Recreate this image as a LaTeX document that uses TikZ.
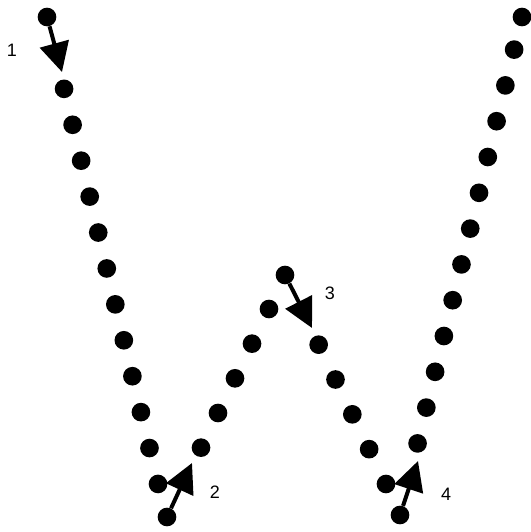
\documentclass[tikz,border=0pt]{standalone}
\usepackage{fontspec}
\setmainfont{Liberation Sans}
\usetikzlibrary{arrows.meta}

\tikzstyle{dotnode} = [circle, fill, inner sep = 0pt, minimum size = 14pt]
\tikzstyle{num} = [font = \fontsize{13.5}{16}\selectfont, inner sep = 0pt]
\tikzstyle{penarrow} = [-{Triangle[length = 22pt, width = 22pt]}, line width = 3pt]

\begin{document}
\begin{tikzpicture}[x = 0.75pt, y = -0.75pt]
		\useasboundingbox (0, 0) rectangle (531, 532);

		% stroke 1
		\node [dotnode] at (47, 17) (s1) {};
		\foreach \k in {2,...,13}
			\node [dotnode] at ({47 + 8.54*\k}, {17 + 35.92*\k}) (a\k) {};
		\coordinate (t1) at (62, 72);
		\node [num] at (12, 50) (n1) {1};

		% stroke 2
		\node [dotnode] at (167, 517) (s2) {};
		\foreach \k in {2,...,6}
			\node [dotnode] at ({167 + 17*\k}, {517 - 34.67*\k}) (b\k) {};
		\coordinate (t2) at (192, 463);
		\node [num] at (215, 492) (n2) {2};

		% stroke 3
		\node [dotnode] at (285, 275) (s3) {};
		\foreach \k in {2,...,6}
			\node [dotnode] at ({285 + 16.83*\k}, {275 + 34.83*\k}) (c\k) {};
		\coordinate (t3) at (312, 328);
		\node [num] at (330, 293) (n3) {3};

		% stroke 4
		\node [dotnode] at (400, 515) (s4) {};
		\foreach \k in {2,...,13}
			\node [dotnode] at ({400 + 8.78*\k}, {515 - 35.8*\k}) (d\k) {};
		\node [dotnode] at (522, 17) (e4) {};
		\coordinate (t4) at (418, 461);
		\node [num] at (446, 494) (n4) {4};

		\draw [penarrow] (s1) -- (t1);
		\draw [penarrow] (s2) -- (t2);
		\draw [penarrow] (s3) -- (t3);
		\draw [penarrow] (s4) -- (t4);
	\end{tikzpicture}
\end{document}
